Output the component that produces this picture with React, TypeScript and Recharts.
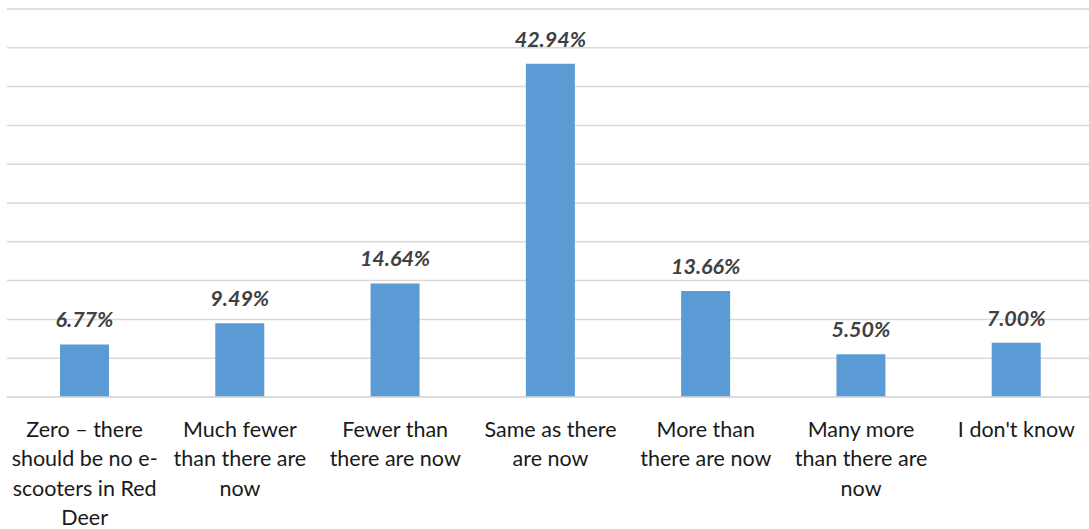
import React from 'react';
import { BarChart, Bar, XAxis, YAxis, CartesianGrid, LabelList } from 'recharts';

const categories = [
  'Zero – there\nshould be no e-\nscooters in Red\nDeer',
  'Much fewer\nthan there are\nnow',
  'Fewer than\nthere are now',
  'Same as there\nare now',
  'More than\nthere are now',
  'Many more\nthan there are\nnow',
  "I don't know",
];
const shares = [6.77, 9.49, 14.64, 42.94, 13.66, 5.5, 7.0];
const valueLabels = ['6.77%', '9.49%', '14.64%', '42.94%', '13.66%', '5.50%', '7.00%'];
const yTicks = [0, 5, 10, 15, 20, 25, 30, 35, 40, 45, 50];

const data = categories.map((name, i) => ({ name, value: shares[i], label: valueLabels[i] }));

const FONT = 'Lato, "Open Sans", sans-serif';

function CategoryTick(props: any) {
  const { x, y, payload } = props;
  const lines = String(payload.value).split('\n');
  return (
    <text x={x} y={y + 38} textAnchor="middle" fill="#1a1a1a" fontSize={21.5} fontFamily={FONT}>
      {lines.map((l, i) => (
        <tspan key={i} x={x} dy={i === 0 ? 0 : 29.3}>
          {l}
        </tspan>
      ))}
    </text>
  );
}

function ValueLabel(props: any) {
  const { x, y, width, index } = props;
  return (
    <text
      x={x + width / 2}
      y={y - 17}
      textAnchor="middle"
      fill="#404040"
      fontSize={21.5}
      fontWeight={700}
      fontStyle="italic"
      fontFamily={FONT}
    >
      {valueLabels[index]}
    </text>
  );
}

export default function App() {
  return (
    <div style={{ position: 'absolute', left: 0, top: 0, width: 1089, height: 529, overflow: 'hidden', background: '#fff' }}>
      <BarChart width={1094} height={529} data={data} margin={{ top: 9, right: 0, left: 7, bottom: 0 }}>
        <CartesianGrid vertical={false} stroke="#D9D9D9" strokeWidth={1.5} />
        <XAxis
          dataKey="name"
          height={132}
          axisLine={{ stroke: '#D9D9D9', strokeWidth: 1.5 }}
          tickLine={false}
          tickSize={0}
          interval={0}
          tick={<CategoryTick />}
        />
        <YAxis hide domain={[0, 50]} ticks={yTicks} />
        <Bar dataKey="value" fill="#5B9BD5" barSize={49} isAnimationActive={false}>
          <LabelList dataKey="label" content={<ValueLabel />} />
        </Bar>
      </BarChart>
    </div>
  );
}
